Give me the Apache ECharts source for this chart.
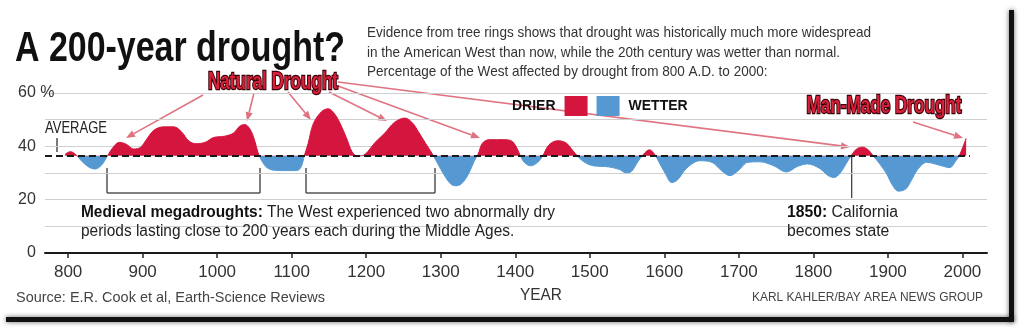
<!DOCTYPE html>
<html><head><meta charset="utf-8">
<script src="https://cdn.jsdelivr.net/npm/echarts@6/dist/echarts.min.js"></script>
<style>html,body{margin:0;padding:0;background:#fff}#c{width:1024px;height:333px}</style>
</head><body><div id="c"></div>
<script>
// ---- data ----
const years = [796,803,810,818,828,836,845,853,860,869,878,888,897,905,915,928,942,952,962,972,984,995,1010,1022,1030,1037,1044,1050,1055,1060,1067,1078,1095,1108,1113,1117,1122,1129,1140,1149,1158,1166,1174,1181,1188,1195,1202,1212,1225,1238,1252,1262,1270,1280,1288,1295,1304,1313,1320,1328,1337,1345,1350,1356,1365,1385,1395,1401,1406,1412,1421,1430,1437,1445,1457,1468,1477,1484,1493,1505,1525,1540,1548,1556,1564,1572,1580,1587,1593,1601,1610,1618,1630,1648,1664,1677,1688,1699,1712,1728,1746,1764,1779,1792,1808,1820,1828,1836,1844,1851,1858,1866,1874,1880,1888,1898,1906,1914,1924,1932,1940,1952,1962,1972,1983,1991,1996,2005];
const droughtPct = [37.0,38.0,37.0,34.5,32.2,31.5,33.0,36.5,39.5,41.5,40.8,39.0,39.6,42.5,46.0,47.3,47.3,45.5,42.0,41.0,41.5,43.3,43.8,45.0,47.5,48.2,46.5,42.5,37.5,34.5,32.0,31.0,30.9,31.0,32.5,36.5,41.0,48.5,53.0,54.1,52.0,48.0,42.8,38.0,36.3,36.5,38.0,41.5,45.0,49.0,50.6,48.8,45.5,41.0,37.5,34.0,29.5,26.0,25.2,26.0,29.5,34.5,37.0,41.2,42.5,42.5,42.0,40.0,37.0,34.0,32.7,34.0,36.5,40.5,42.1,41.3,38.5,36.2,34.0,32.7,32.3,31.3,30.1,30.6,34.0,37.0,38.7,37.0,34.0,30.0,26.4,27.5,31.8,34.6,34.0,30.8,29.0,30.8,34.0,34.2,32.8,30.4,32.5,33.4,31.8,29.0,28.3,30.0,33.5,36.6,39.0,39.7,38.6,36.5,33.8,29.8,25.5,23.2,24.0,27.5,31.3,34.0,33.5,32.7,32.0,34.5,36.6,43.0];
const averageLevel = 36.5;
const xTickLabels = [800,900,1000,1100,1200,1300,1400,1500,1600,1700,1800,1900,2000];
const yTickLabels = [0,20,40,60];

const RED = '#d4163e', BLUE = '#5598d2', ARROW = '#e07382', INK = '#222';
const F = '"Liberation Sans", Arial, sans-serif';

const mctx = document.createElement('canvas').getContext('2d');
function tw(str, weight, size){ mctx.font = (weight||'normal') + ' ' + size + 'px ' + F; return mctx.measureText(str).width; }

const chart = echarts.init(document.getElementById('c'), null, {renderer:'canvas'});

function arrow(x1,y1,x2,y2){
  const a=Math.atan2(y2-y1,x2-x1), L=9, W=3.6;
  const bx=x2-L*Math.cos(a), by=y2-L*Math.sin(a);
  const px=-Math.sin(a)*W, py=Math.cos(a)*W;
  return [
    {type:'line', silent:true, shape:{x1:x1,y1:y1,x2:bx,y2:by}, style:{stroke:ARROW,lineWidth:1.6}},
    {type:'polygon', silent:true, shape:{points:[[x2,y2],[bx+px,by+py],[bx-px,by-py]]}, style:{fill:ARROW}}
  ];
}
// text squeezed horizontally to the measured width of the reference
function txt(x,y,text,size,weight,targetW,opt,measuredW){
  const w = measuredW || tw(text, weight, size);
  const s = targetW ? targetW / w : 1;
  return {type:'text', silent:true, x:x, y:y, scaleX:s, z:100,
    style:Object.assign({text:text, fontFamily:'Liberation Sans, Arial, sans-serif', fontSize:size, fontWeight:weight||'normal', fill:INK, textAlign:'left', textVerticalAlign:'middle'}, opt||{})};
}
function seg(x1,y1,x2,y2,c,w){ return {type:'line', silent:true, shape:{x1,y1,x2,y2}, style:{stroke:c,lineWidth:w}}; }

const descScale = 504 / tw('Evidence from tree rings shows that drought was historically much more widespread','normal',15);
const medW = tw('Medieval megadroughts:','bold',16) + tw(' The West experienced two abnormally dry','normal',16);
const medScale = 474 / medW;
const calW = tw('1850:','bold',16) + tw(' California','normal',16);
const calScale = 111 / calW;
const boldRich = {b:{fontWeight:'bold', fontSize:16, fontFamily:'Liberation Sans, Arial, sans-serif', fill:'#111'}};

const graphics = [
  // card shadow edges
  {type:'rect', silent:true, shape:{x:1009,y:10,width:5,height:312}, style:{fill:'#111', shadowBlur:5, shadowColor:'rgba(0,0,0,0.6)'}},
  {type:'rect', silent:true, shape:{x:6,y:317,width:1008,height:5}, style:{fill:'#111', shadowBlur:5, shadowColor:'rgba(0,0,0,0.6)'}},
  txt(15,49,'A 200-year drought?',43,'bold',330,{fill:'#111'}),
  txt(367,33,'Evidence from tree rings shows that drought was historically much more widespread',15,'normal',null,{fill:'#333'}),
  txt(367,52.5,'in the American West than now, while the 20th century was wetter than normal.',15,'normal',null,{fill:'#333'}),
  txt(367,72,'Percentage of the West affected by drought from 800 A.D. to 2000:',15,'normal',null,{fill:'#333'}),
  txt(45,129,'AVERAGE',16,'normal',62),
  seg(57,138,57,152,INK,1.2),
  // brackets
  seg(107,168,107,193,'#555',1.5), seg(107,193,260,193,'#555',1.5), seg(260,193,260,168,'#555',1.5),
  seg(306,168,306,193,'#555',1.5), seg(306,193,435,193,'#555',1.5), seg(435,193,435,168,'#555',1.5),
  seg(851.7,155,851.7,198,'#333',1.2),
  txt(81,213,'{b|Medieval megadroughts:} The West experienced two abnormally dry',16,'normal',null,{rich:boldRich}),
  txt(81,232,'periods lasting close to 200 years each during the Middle Ages.',16,'normal',null),
  txt(787,213,'{b|1850:} California',16,'normal',null,{rich:boldRich}),
  txt(787,232,'becomes state',16,'normal',null),
  txt(541,295,'YEAR',17,'normal',42,{textAlign:'center',fill:'#333'}),
  txt(16,298,'Source: E.R. Cook et al, Earth-Science Reviews',15,'normal',309,{fill:'#444'}),
  txt(983,297,'KARL KAHLER/BAY AREA NEWS GROUP',13.5,'normal',231,{textAlign:'right',fill:'#444'}),
].concat(
  arrow(203,95,126,138), arrow(254,93,247,121), arrow(288,92,311,120),
  arrow(329,92,387,121), arrow(338,86,480,138), arrow(338,82,850,147),
  arrow(913,122,963,138)
).concat([
  txt(273,82,'Natural Drought',24,'bold',130,{textAlign:'center',fill:'#d8203a',stroke:'#3a0008',lineWidth:2.5,shadowBlur:3,shadowColor:'rgba(220,30,50,0.8)'}),
  txt(884,106,'Man-Made Drought',24,'bold',155,{textAlign:'center',fill:'#d8203a',stroke:'#3a0008',lineWidth:2.5,shadowBlur:3,shadowColor:'rgba(220,30,50,0.8)'})
]);
// apply shared scales
graphics[3].scaleX = graphics[4].scaleX = graphics[5].scaleX = descScale;
graphics[15].scaleX = graphics[16].scaleX = medScale;
graphics[17].scaleX = graphics[18].scaleX = calScale;

const option = {
  backgroundColor:'#fff',
  animation:false,
  grid:{left:45, right:37, top:93, bottom:80, containLabel:false},
  xAxis:{
    type:'value', min:769, max:2033,
    axisLine:{show:true, lineStyle:{color:'#1a1a1a', width:2}},
    axisTick:{show:true, customValues:xTickLabels, length:5, lineStyle:{color:'#222', width:1.5}},
    axisLabel:{customValues:xTickLabels, margin:11, fontFamily:F, fontSize:17, color:'#333', formatter:function(v){return String(v);}},
    splitLine:{show:false}
  },
  yAxis:{
    type:'value', min:0, max:60, interval:10,
    axisLine:{show:false}, axisTick:{show:false},
    splitLine:{lineStyle:{color:'#cfcfcf', width:1}},
    axisLabel:{align:'left', margin:27, fontFamily:F, fontSize:16, color:'#333',
      formatter:function(v){ if(yTickLabels.indexOf(v)<0) return ''; if(v===60) return '60 %'; if(v===0) return '{z|0}'; return String(v); },
      rich:{z:{padding:[0,0,0,9], fontFamily:F, fontSize:16, color:'#333'}}}
  },
  visualMap:{
    type:'piecewise', seriesIndex:0, dimension:1,
    pieces:[{gte:0, lte:averageLevel, color:BLUE},{gt:averageLevel, lte:100, color:RED}],
    text:['DRIER','WETTER'], showLabel:false, inverse:true,
    orient:'horizontal', left:512, top:96, padding:0, itemSymbol:'rect',
    itemWidth:23, itemHeight:20, itemGap:9, textGap:5,
    selectedMode:false,
    textStyle:{fontFamily:F, fontSize:14, fontWeight:'bold', color:'#111'}
  },
  series:[{
    type:'line', smooth:0.35, showSymbol:false, silent:true,
    data: years.map((y,i)=>[y, droughtPct[i]]),
    lineStyle:{width:1},
    areaStyle:{origin:averageLevel, opacity:1},
    markLine:{
      silent:true, symbol:'none', animation:false,
      label:{show:false},
      lineStyle:{color:'#1a1a1a', width:2, type:[7,4]},
      data:[[{coord:[769,averageLevel]},{coord:[2010,averageLevel]}]]
    }
  }],
  graphic:graphics
};
chart.setOption(option);
</script>
</body></html>
